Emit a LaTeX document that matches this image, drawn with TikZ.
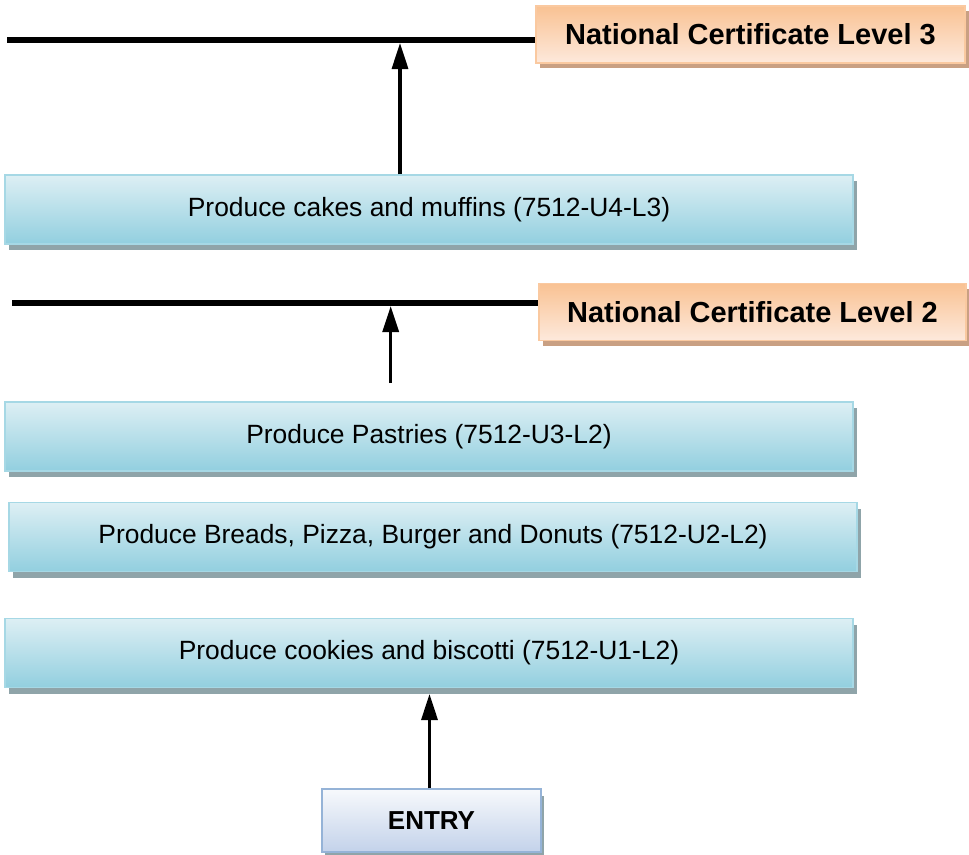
\documentclass[tikz,border=0pt]{standalone}
\usepackage{fontspec}
\setmainfont{Liberation Sans}
\usetikzlibrary{arrows.meta,shadows}

\definecolor{unitlight}{HTML}{DDEFF4}
\definecolor{unitdark}{HTML}{92CFDF}
\definecolor{unitedge}{HTML}{A6D8E5}
\definecolor{unitshadow}{HTML}{8FA4A9}
\definecolor{levtop}{HTML}{F9C293}
\definecolor{levbot}{HTML}{FDE9DC}
\definecolor{levedge}{HTML}{FAC9A0}
\definecolor{levshadow}{HTML}{C9A083}
\definecolor{entrytop}{HTML}{F7F9FC}
\definecolor{entrybot}{HTML}{C3D2EA}
\definecolor{entryedge}{HTML}{95B3D7}

\tikzset{
  unitbox/.style={draw=unitedge, line width=1.5pt, top color=unitlight, bottom color=unitdark,
    minimum width=848pt, minimum height=69pt, inner sep=0pt,
    font=\fontsize{26.4}{30}\selectfont,
    drop shadow={shadow xshift=4pt, shadow yshift=-6pt, fill=unitshadow, opacity=1}},
  levelbox/.style={draw=levedge, line width=1.5pt, top color=levtop, bottom color=levbot,
    minimum height=57pt, inner sep=0pt,
    font=\fontsize{29}{33}\selectfont\bfseries,
    drop shadow={shadow xshift=4pt, shadow yshift=-5pt, fill=levshadow, opacity=1}},
  levline/.style={line width=6pt},
  arr/.style={line width=3.3pt, -{Triangle[length=26pt,width=16pt]}}
}

\begin{document}
\begin{tikzpicture}[x=1pt,y=-1pt]
  \useasboundingbox (0,0) rectangle (969,854);
  % levels
  \node[levelbox, minimum width=429pt] (lev3) at (750.5,34.5) {National Certificate Level 3};
  \node[levelbox, minimum width=427pt] (lev2) at (752.5,312) {National Certificate Level 2};
  \draw[levline] (7,40) -- (lev3.west |- 0,40);
  \draw[levline] (12,303) -- (lev2.west |- 0,303);
  % units
  \node[unitbox] (u4) at (429,209.5) {Produce cakes and muffins (7512-U4-L3)};
  \node[unitbox] (u3) at (429,436.5) {Produce Pastries (7512-U3-L2)};
  \node[unitbox] (u2) at (433,537) {Produce Breads, Pizza, Burger and Donuts (7512-U2-L2)};
  \node[unitbox] (u1) at (429,653) {Produce cookies and biscotti (7512-U1-L2)};
  % entry
  \node[draw=entryedge, line width=1.5pt, top color=entrytop, bottom color=entrybot,
    minimum width=219pt, minimum height=63pt, inner sep=0pt,
    font=\fontsize{26}{30}\selectfont\bfseries,
    drop shadow={shadow xshift=3pt, shadow yshift=-7pt, fill=unitshadow, opacity=1}]
    (entry) at (431.5,820.5) {ENTRY};
  % arrows
  \coordinate (t1) at (400,43);
  \coordinate (s2) at (390.7,383);
  \coordinate (t2) at (390.7,306);
  \coordinate (t3) at (429.5,694);
  \draw[arr] (u4.north -| t1) -- (t1);
  \draw[arr] (s2) -- (t2);
  \draw[arr] (entry.north -| t3) -- (t3);
\end{tikzpicture}
\end{document}
